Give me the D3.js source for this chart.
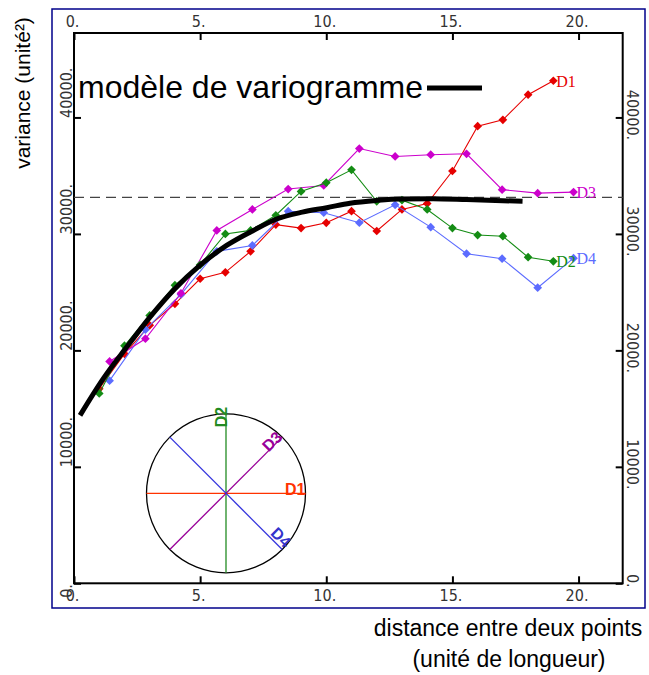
<!DOCTYPE html>
<html><head><meta charset="utf-8">
<script src="https://cdn.jsdelivr.net/npm/d3@7"></script>
<style>body{margin:0;background:#fff} svg{display:block}</style>
</head><body>
<svg id="c" width="649" height="675"></svg>
<script>
// ---- data ----
const xTicks = [0, 5, 10, 15, 20];
const yTicks = [0, 10000, 20000, 30000, 40000];
const lagsAxial = [1,2,3,4,5,6,7,8,9,10,11,12,13,14,15,16,17,18,19];
const lagsDiag = [1.41,2.83,4.24,5.66,7.07,8.49,9.90,11.31,12.73,14.14,15.56,16.97,18.38,19.80];
const d1Values = [16700,19700,22150,24000,26150,26700,28500,30800,30500,30950,31950,30250,32100,32600,35400,39250,39800,41950,43150];
const d2Values = [16300,20400,23000,25600,27350,30000,30300,31600,33650,34400,35500,32800,32900,32100,30500,29900,29800,28000,27650];
const d3Values = [19050,21000,24900,30300,32100,33850,34160,37330,36650,36800,36880,33800,33500,33590];
const d4Values = [17400,21780,24800,28500,29010,31950,31820,30960,32500,30580,28300,27870,25380,27920];
const modelX = [0.24,1.16,2.09,3.01,4.0,4.99,6.05,7.11,8.06,9.05,10.02,10.94,12.0,12.92,14.23,15.56,17.78];
const modelV = [14420,17570,20280,22860,25300,27300,29010,30300,31300,31870,32250,32640,32880,33000,33020,32950,32800];
const sill = [33130];
const directionNames = ["D1","D2","D3","D4"];
const directionAngles = [0, 90, 45, -45];

// ---- drawing ----
const svg = d3.select("#c");
const M = {left:74, right:622.7, top:33, bottom:583.3};
const x = d3.scaleLinear().domain([0, 21.75]).range([M.left, M.right]);
const y = d3.scaleLinear().domain([0, 47250]).range([M.bottom, M.top]);

svg.append("rect").attr("width",649).attr("height",675).attr("fill","#fff");
svg.append("rect").attr("x",52).attr("y",9).attr("width",593).attr("height",599)
  .attr("fill","none").attr("stroke","#00008b").attr("stroke-width",1.5);

const tickFontFamily = "'Liberation Sans Narrow','DejaVu Sans Condensed',sans-serif";
const fmt = d => d + ".";
function styleAxis(g){
  g.select(".domain").remove();
  g.attr("font-family", tickFontFamily).attr("font-size", 16);
  g.selectAll(".tick line").attr("stroke","#000").attr("stroke-width",2);
  g.selectAll(".tick text").attr("fill","#333");
}
const gB = svg.append("g").attr("transform",`translate(0,${M.bottom})`)
  .call(d3.axisBottom(x).tickValues(xTicks).tickFormat(fmt).tickSizeInner(-7).tickSizeOuter(0).tickPadding(6));
styleAxis(gB); gB.selectAll(".tick text").attr("dx",-2);
const gT = svg.append("g").attr("transform",`translate(0,${M.top})`)
  .call(d3.axisTop(x).tickValues(xTicks).tickFormat(fmt).tickSizeInner(-7).tickSizeOuter(0).tickPadding(6));
styleAxis(gT); gT.selectAll(".tick text").attr("dx",-2);
const gL = svg.append("g").attr("transform",`translate(${M.left},0)`)
  .call(d3.axisLeft(y).tickValues(yTicks).tickFormat(fmt).tickSizeInner(-7).tickSizeOuter(0));
styleAxis(gL);
gL.selectAll(".tick text").attr("x",0).attr("dy",0).attr("text-anchor","start")
  .attr("transform", d => `translate(-2,${d===0?14:0}) rotate(-90)`);
const gR = svg.append("g").attr("transform",`translate(${M.right},0)`)
  .call(d3.axisRight(y).tickValues(yTicks).tickFormat(fmt).tickSizeInner(-7).tickSizeOuter(0));
styleAxis(gR);
gR.selectAll(".tick text").attr("x",0).attr("dy",0).attr("text-anchor","middle")
  .attr("transform", `translate(4,-3) rotate(90)`);

svg.append("rect").attr("x",M.left).attr("y",M.top).attr("width",M.right-M.left).attr("height",M.bottom-M.top)
  .attr("fill","none").attr("stroke","#000").attr("stroke-width",2);

// sill dashed line
svg.append("line").attr("x1",M.left).attr("x2",M.right).attr("y1",y(sill[0])).attr("y2",y(sill[0]))
  .attr("stroke","#444").attr("stroke-width",1.3).attr("stroke-dasharray","10,6");

// series
const series = [
  {name:"D1", lags:lagsAxial, values:d1Values, color:"#e60000"},
  {name:"D4", lags:lagsDiag, values:d4Values, color:"#5c6cff"},
  {name:"D3", lags:lagsDiag, values:d3Values, color:"#cc00cc"},
  {name:"D2", lags:lagsAxial, values:d2Values, color:"#148c14"},
];
const line = d3.line().x(d=>x(d[0])).y(d=>y(d[1]));
const sym = d3.symbol().type(d3.symbolSquare).size(38);
series.forEach(s=>{
  const pts = s.lags.map((l,i)=>[l, s.values[i]]);
  const g = svg.append("g");
  g.append("path").attr("d", line(pts)).attr("fill","none").attr("stroke",s.color).attr("stroke-width",1.1);
  g.selectAll("path.pt").data(pts).join("path").attr("class","pt").attr("d",sym)
    .attr("fill",s.color)
    .attr("transform",d=>`translate(${x(d[0])},${y(d[1])}) rotate(45)`);
  const last = pts[pts.length-1];
  g.append("text").attr("x",x(last[0])+3).attr("y",y(last[1])).attr("dy","0.36em")
    .attr("font-family","'Liberation Serif',serif").attr("font-size",16).attr("fill",s.color).text(s.name);
});

// model curve
const modelPts = modelX.map((v,i)=>[v, modelV[i]]);
svg.append("path").attr("d", d3.line().curve(d3.curveMonotoneX).x(d=>x(d[0])).y(d=>y(d[1]))(modelPts))
  .attr("fill","none").attr("stroke","#000").attr("stroke-width",5);

// legend
svg.append("text").attr("x",78).attr("y",98).attr("font-family","'Liberation Sans',Arial,sans-serif")
  .attr("font-size",32).attr("fill","#000").text("modèle de variogramme");
svg.append("line").attr("x1",427).attr("x2",482).attr("y1",88).attr("y2",88).attr("stroke","#000").attr("stroke-width",5);

// inset compass
const cx = 226, cy = 493.3, r = 79.5;
const lineColors = ["#ff3300","#228b22","#990099","#3333dd"];
const labelColors = ["#ff3300","#228b22","#990099","#3333cc"];
const inset = svg.append("g");
inset.append("circle").attr("cx",cx).attr("cy",cy).attr("r",r).attr("fill","none").attr("stroke","#000").attr("stroke-width",1.3);
directionAngles.forEach((a,i)=>{
  const rad = a*Math.PI/180;
  const dx = Math.cos(rad)*r, dy = -Math.sin(rad)*r;
  inset.append("line").attr("x1",cx-dx).attr("y1",cy-dy).attr("x2",cx+dx).attr("y2",cy+dy)
    .attr("stroke",lineColors[i]).attr("stroke-width",1.3);
});
const lab = (i, tx, ty, rot) => inset.append("text")
  .attr("transform",`translate(${tx},${ty}) rotate(${rot})`).attr("text-anchor","end")
  .attr("font-family","'Liberation Sans',Arial,sans-serif").attr("font-weight","bold").attr("font-size",16)
  .attr("fill",labelColors[i]).text(directionNames[i]);
lab(0, cx+r, cy+2, 0);
lab(1, cx+1, cy-r-7, -90);
lab(2, cx+r*0.707+1, cy-r*0.707+1, -45);
lab(3, cx+r*0.707+2, cy+r*0.707-1, 45);

// titles
svg.append("text").attr("transform","translate(30,93) rotate(-90)").attr("text-anchor","middle")
  .attr("font-family","'Liberation Sans',Arial,sans-serif").attr("font-size",21).attr("fill","#000")
  .text("variance (unité²)");
svg.append("text").attr("x",508).attr("y",636).attr("text-anchor","middle")
  .attr("font-family","'Liberation Sans',Arial,sans-serif").attr("font-size",23).attr("fill","#000")
  .text("distance entre deux points");
svg.append("text").attr("x",509).attr("y",667).attr("text-anchor","middle")
  .attr("font-family","'Liberation Sans',Arial,sans-serif").attr("font-size",23).attr("fill","#000")
  .text("(unité de longueur)");
</script>
</body></html>
